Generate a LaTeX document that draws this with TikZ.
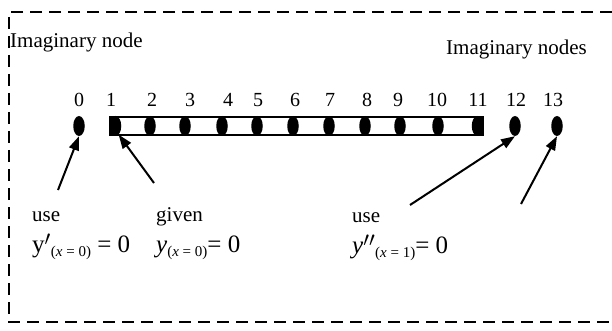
\documentclass[tikz,border=0pt]{standalone}
\usepackage{fontspec}
\setmainfont{Liberation Serif}
\usetikzlibrary{arrows.meta, positioning, shapes.geometric}

\newcommand{\lowsub}[1]{\raisebox{-4pt}{\fontsize{15}{15}\selectfont #1}}
\newcommand{\bigprime}[1]{\raisebox{-3pt}{\smash{\fontsize{30}{30}\selectfont$#1$}}}

\begin{document}
\begin{tikzpicture}[
			x=1pt, y=-1pt,
			frame/.style={line width=2pt, dash pattern=on 12pt off 7pt},
			dot/.style={ellipse, fill=black, minimum width=11.5pt, minimum height=20pt, inner sep=0pt},
			bar/.style={draw, line width=2pt, minimum width=373pt, minimum height=18pt, inner sep=0pt},
			num/.style={inner sep=0pt, anchor=base, font=\fontsize{20}{24}\selectfont},
			txt/.style={inner sep=0pt, anchor=base west, font=\fontsize{21}{25}\selectfont},
			eq/.style={inner sep=0pt, anchor=base west, font=\fontsize{25}{30}\selectfont},
			arrow/.style={-{Triangle[length=14pt, width=10pt]}, line width=2pt}
			]
			
			\useasboundingbox (0,0) rectangle (612,331);
			
			% --- Dashed frame (right side is cut off) ---
			\draw[frame] (612,12) -- (9,12) -- (9,322) -- (612,322);
			
			% --- Bar ---
			\node[bar] (bar) at (296.5,126) {};
			
			% --- Nodes and numbers ---
			\foreach \i/\x/\lx in {0/79/79, 1/115.5/111, 2/150/152, 3/185/190, 4/222/228, 5/257/258, 6/293/295,
				7/329/330, 8/365/367, 9/400/398, 10/438/437, 11/477.5/478, 12/515/516, 13/557/553} {
				\node[dot] (n\i) at (\x,126) {};
				\node[num] (l\i) at (\lx,107) {\i};
			}
			\fill (bar.north west) rectangle (n1.south);
			\fill (bar.south east) rectangle (n11.north);
			
			% --- Texts ---
			\node[txt] (imag) at (10,48) {Imaginary node};
			\node[txt] (imags) at (446,55) {Imaginary nodes};
			
			\node[txt] (use0) at (32,221) {use};
			\node[eq] (bc0) at (32,252) {y\bigprime{'}\lowsub{(\textit{x} = 0)} = 0};
			
			\node[txt] (given) at (156,221) {given};
			\node[eq] (bc1) at (156,252) {\textit{y}\lowsub{(\textit{x} = 0)}= 0};
			
			\node[txt] (use1) at (352,222) {use};
			\node[eq] (bc2) at (352,253) {\textit{y}\bigprime{''}\lowsub{(\textit{x} = 1)}= 0};
			
			% --- Arrows ---
			\coordinate (s0) at (58,190);
			\coordinate (s1) at (154,183);
			\coordinate (s12) at (410,205);
			\coordinate (s13) at (521,204);
			
			\draw[arrow] (s0) -- (n0.south);
			\draw[arrow] (s1) -- (n1.-70);
			\draw[arrow] (s12) -- (n12.south);
			\draw[arrow] (s13) -- (n13.south);
			
	\end{tikzpicture}
\end{document}
